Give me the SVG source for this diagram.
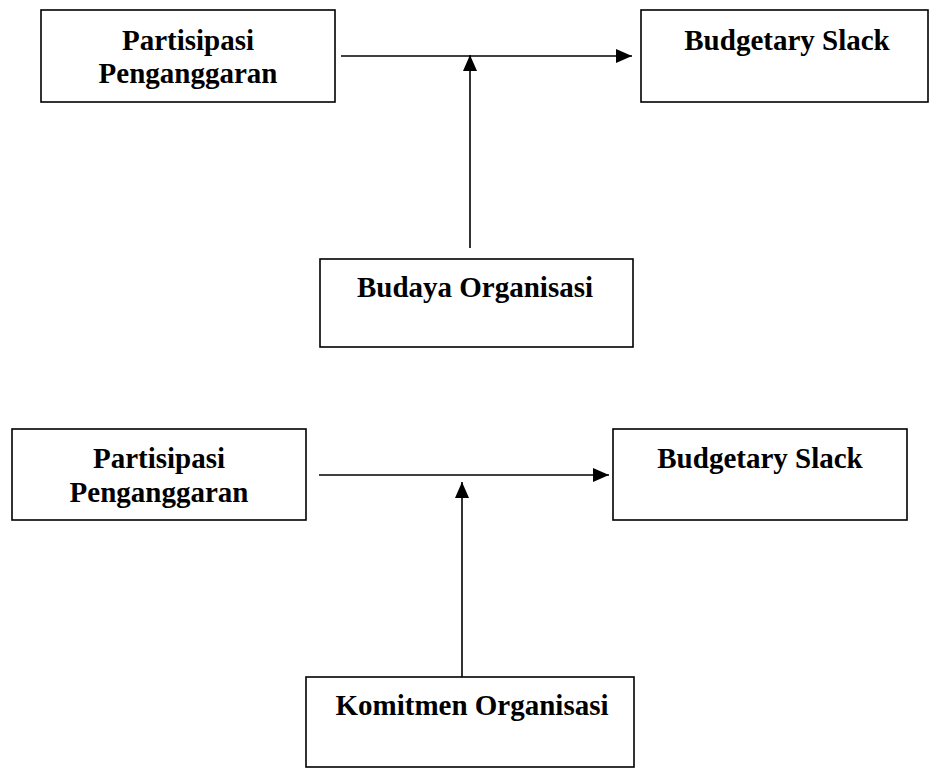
<svg xmlns="http://www.w3.org/2000/svg" width="929" height="768" viewBox="0 0 929 768">
<style>
.box{fill:#fff;stroke:#000;stroke-width:1.6}
.t{font-family:"Liberation Serif","Times New Roman",serif;font-weight:bold;font-size:29px;fill:#000;text-anchor:middle}
.c{stroke:#000;stroke-width:1.6;fill:none}
</style>
<defs>
<marker id="ah" viewBox="0 0 16 14" refX="16" refY="7" markerWidth="16" markerHeight="14" markerUnits="userSpaceOnUse" orient="auto">
<path d="M0,0 L16,7 L0,14 Z" fill="#000"/>
</marker>
</defs>
<rect width="929" height="768" fill="#fff"/>
<g id="connectors">
<line class="c" x1="341" y1="56" x2="632" y2="56" marker-end="url(#ah)"/>
<line class="c" x1="470" y1="248" x2="470" y2="55" marker-end="url(#ah)"/>
<line class="c" x1="319" y1="475" x2="609" y2="475" marker-end="url(#ah)"/>
<line class="c" x1="462" y1="677" x2="462" y2="482" marker-end="url(#ah)"/>
</g>
<g id="partisipasi1">
<rect class="box" x="41" y="10" width="294" height="92"/>
<text class="t" x="188" y="50">Partisipasi</text>
<text class="t" x="188" y="83">Penganggaran</text>
</g>
<g id="slack1">
<rect class="box" x="641" y="10" width="287" height="92"/>
<text class="t" x="787" y="50">Budgetary Slack</text>
</g>
<g id="budaya">
<rect class="box" x="320" y="259" width="313" height="88"/>
<text class="t" x="475" y="297">Budaya Organisasi</text>
</g>
<g id="partisipasi2">
<rect class="box" x="12" y="429" width="294" height="91"/>
<text class="t" x="159" y="468">Partisipasi</text>
<text class="t" x="159" y="502">Penganggaran</text>
</g>
<g id="slack2">
<rect class="box" x="613" y="429" width="294" height="91"/>
<text class="t" x="760" y="468">Budgetary Slack</text>
</g>
<g id="komitmen">
<rect class="box" x="306" y="677" width="328" height="90"/>
<text class="t" x="472" y="715">Komitmen Organisasi</text>
</g>
</svg>
